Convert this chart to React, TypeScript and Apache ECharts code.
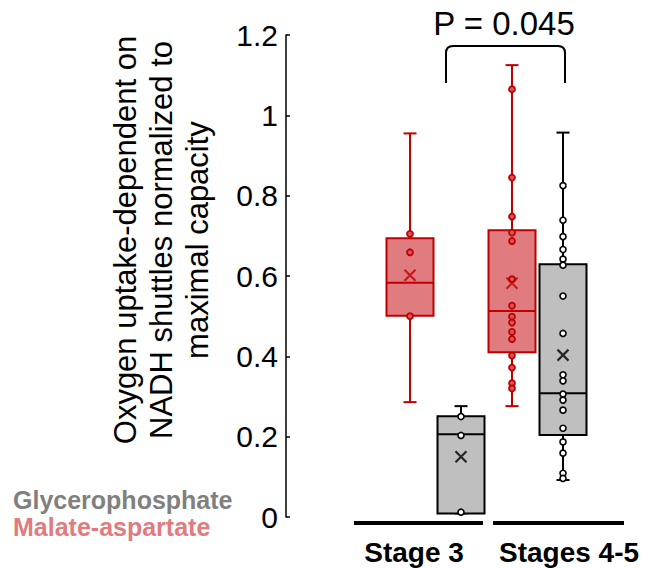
import React, { useEffect, useRef } from "react";
import * as echarts from "echarts";

const stages = ["Stage 3", "Stages 4-5"];
const shuttles = ["Malate-aspartate", "Glycerophosphate"];
const yMin = 0;
const yMax = 1.2;
const yStep = 0.2;

// box stats: [min, Q1, median, Q3, max] per stage
const malateBox = [
  [0.286, 0.501, 0.583, 0.694, 0.955],
  [0.276, 0.41, 0.513, 0.714, 1.125],
];
const glyceroBox = [
  [0.009, 0.009, 0.206, 0.251, 0.276],
  [0.092, 0.204, 0.308, 0.629, 0.957],
];
const malateMean = [0.602, 0.582];
const glyceroMean = [0.15, 0.403];

const malateStage3Pts = [0.705, 0.659, 0.5];
const glyceroStage3Pts = [0.012, 0.203, 0.25];
const malateStage45Pts = [
  1.065, 0.845, 0.748, 0.708, 0.687, 0.592, 0.526, 0.499, 0.484, 0.461, 0.443,
  0.402, 0.372, 0.333, 0.32,
];
const glyceroStage45Pts = [
  0.825, 0.739, 0.698, 0.666, 0.642, 0.627, 0.55, 0.457, 0.354, 0.339, 0.306,
  0.291, 0.266, 0.221, 0.187, 0.159, 0.109, 0.096,
];

const pValueText = "P = 0.045";
const yTitle = [
  "Oxygen uptake-dependent on",
  "NADH shuttles normalized to",
  "maximal capacity",
];

const FONT = "'Liberation Sans', Arial, Helvetica, sans-serif";
const RED = "#c00000";
const PINK = "#e07b80";
const GREY_FILL = "#bfbfbf";
const BLACK = "#000000";

echarts.graphic.registerShape(
  "bracket",
  echarts.graphic.extendPath(
    "M446,83 L446,53 Q446,46 453,46 L558,46 Q565,46 565,53 L565,83",
    {}
  )
);

// x categories: stage x shuttle
const xCats: string[] = [];
stages.forEach((s) => shuttles.forEach((sh) => xCats.push(s + " " + sh)));
const idxOf = (stage: number, shuttle: number) => stage * shuttles.length + shuttle;

function renderBox(stroke: string, fill: string) {
  return (params: any, api: any) => {
    const idx = api.value(0);
    const pMin = api.coord([idx, api.value(1)]);
    const pQ1 = api.coord([idx, api.value(2)]);
    const pMed = api.coord([idx, api.value(3)]);
    const pQ3 = api.coord([idx, api.value(4)]);
    const pMax = api.coord([idx, api.value(5)]);
    const cx = pMin[0];
    const hw = 23.5;
    const cw = 6.5;
    const ls = { stroke, lineWidth: 2 };
    return {
      type: "group",
      children: [
        { type: "line", shape: { x1: cx, y1: pMax[1], x2: cx, y2: pMin[1] }, style: ls },
        { type: "line", shape: { x1: cx - cw, y1: pMax[1], x2: cx + cw, y2: pMax[1] }, style: ls },
        { type: "line", shape: { x1: cx - cw, y1: pMin[1], x2: cx + cw, y2: pMin[1] }, style: ls },
        {
          type: "rect",
          shape: { x: cx - hw, y: pQ3[1], width: hw * 2, height: pQ1[1] - pQ3[1] },
          style: { fill, stroke, lineWidth: 2 },
        },
        { type: "line", shape: { x1: cx - hw, y1: pMed[1], x2: cx + hw, y2: pMed[1] }, style: ls },
      ],
    };
  };
}

export default function App() {
  const ref = useRef<HTMLDivElement>(null);
  useEffect(() => {
    if (!ref.current) return;
    const chart = echarts.init(ref.current, null, { renderer: "svg" });

    const malateBoxData = malateBox.map((b, s) => [idxOf(s, 0), ...b]);
    const glyceroBoxData = glyceroBox.map((b, s) => [idxOf(s, 1), ...b]);
    const malatePts = [
      ...malateStage3Pts.map((v) => [idxOf(0, 0), v]),
      ...malateStage45Pts.map((v) => [idxOf(1, 0), v]),
    ];
    const glyceroPts = [
      ...glyceroStage3Pts.map((v) => [idxOf(0, 1), v]),
      ...glyceroStage45Pts.map((v) => [idxOf(1, 1), v]),
    ];
    const malateMeans = malateMean.map((v, s) => [idxOf(s, 0), v]);
    const glyceroMeans = glyceroMean.map((v, s) => [idxOf(s, 1), v]);
    const cross = "path://M0,0L10,10M10,0L0,10";

    const boldText = (text: string, x: number, y: number, fill: string, size: number, align: string) => ({
      type: "text",
      x,
      y,
      style: {
        text,
        fontSize: size,
        fontWeight: "bold",
        fontFamily: FONT,
        fill,
        textAlign: align,
        textVerticalAlign: "middle",
      },
    });

    chart.setOption({
      animation: false,
      grid: { left: 384.5, right: 58.5, top: 35, bottom: 52 },
      xAxis: { type: "category", data: xCats, show: false, boundaryGap: true },
      yAxis: {
        type: "value",
        min: yMin,
        max: yMax,
        interval: yStep,
        offset: 98.5,
        axisLine: { show: true, lineStyle: { color: BLACK, width: 1.5 } },
        axisTick: { show: true, inside: true, length: 4, lineStyle: { color: BLACK, width: 1.5 } },
        splitLine: { show: false },
        axisLabel: { fontSize: 30, color: BLACK, margin: 8, fontFamily: FONT },
      },
      series: [
        {
          type: "custom",
          name: shuttles[0],
          data: malateBoxData,
          encode: { x: 0, y: [1, 2, 3, 4, 5] },
          renderItem: renderBox(RED, PINK),
          z: 2,
        },
        {
          type: "custom",
          name: shuttles[1],
          data: glyceroBoxData,
          encode: { x: 0, y: [1, 2, 3, 4, 5] },
          renderItem: renderBox(BLACK, GREY_FILL),
          z: 2,
        },
        {
          type: "scatter",
          data: malatePts,
          symbol: "circle",
          symbolSize: 6,
          itemStyle: { color: "#d5555a", borderColor: RED, borderWidth: 1.8, opacity: 1 },
          z: 3,
        },
        {
          type: "scatter",
          data: glyceroPts,
          symbol: "circle",
          symbolSize: 6,
          itemStyle: { color: "#ffffff", borderColor: BLACK, borderWidth: 1.6, opacity: 1 },
          z: 3,
        },
        {
          type: "scatter",
          data: malateMeans,
          symbol: cross,
          symbolSize: 11,
          itemStyle: { color: "transparent", borderColor: RED, borderWidth: 2.2 },
          z: 4,
        },
        {
          type: "scatter",
          data: glyceroMeans,
          symbol: cross,
          symbolSize: 11,
          itemStyle: { color: "transparent", borderColor: BLACK, borderWidth: 2.2 },
          z: 4,
        },
      ],
      graphic: [
        {
          type: "text",
          x: 161,
          y: 240,
          rotation: Math.PI / 2,
          style: {
            text: yTitle.join("\n"),
            fontSize: 31,
            lineHeight: 36,
            fontFamily: FONT,
            fill: BLACK,
            textAlign: "center",
            textVerticalAlign: "middle",
          },
        },
        boldText(shuttles[1], 13, 500, "#808080", 25, "left"),
        boldText(shuttles[0], 13, 527, PINK, 25, "left"),
        { type: "line", shape: { x1: 354, y1: 523, x2: 483, y2: 523 }, style: { stroke: BLACK, lineWidth: 4 } },
        { type: "line", shape: { x1: 493, y1: 523, x2: 624, y2: 523 }, style: { stroke: BLACK, lineWidth: 4 } },
        boldText(stages[0], 414, 552, BLACK, 28, "center"),
        boldText(stages[1], 569, 552, BLACK, 28, "center"),
        {
          type: "bracket",
          x: 0,
          y: 0,
          style: { stroke: BLACK, lineWidth: 2, fill: "none" },
        },
        {
          type: "text",
          x: 504,
          y: 23,
          style: {
            text: pValueText,
            fontSize: 33,
            fontFamily: FONT,
            fill: BLACK,
            textAlign: "center",
            textVerticalAlign: "middle",
          },
        },
      ],
    });
    return () => chart.dispose();
  }, []);
  return (
    <div
      ref={ref}
      style={{ position: "fixed", left: 0, top: 0, width: 647, height: 569, background: "#fff" }}
    />
  );
}
